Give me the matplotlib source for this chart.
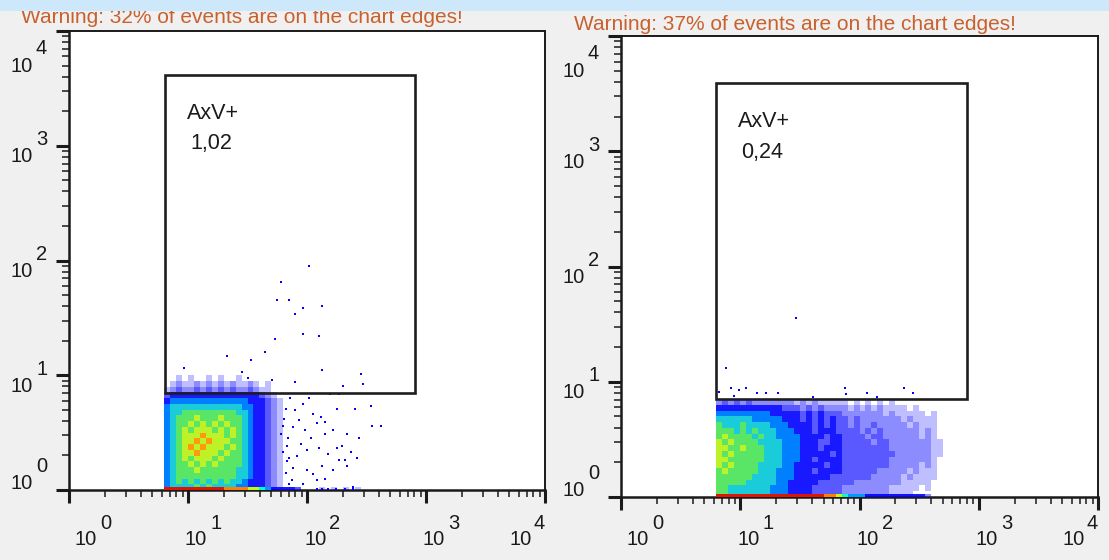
import numpy as np
import matplotlib
matplotlib.use("Agg")
import matplotlib.pyplot as plt
from matplotlib.colors import ListedColormap, BoundaryNorm
from matplotlib.patches import Rectangle
from matplotlib.ticker import LogLocator, NullFormatter

# --- values (all positions in log10 decades) ---
decades = [0, 1, 2, 3, 4]
warnings = ["Warning: 32% of events are on the chart edges!",
            "Warning: 37% of events are on the chart edges!"]
gate_names = ["AxV+", "AxV+"]
gate_values = ["1,02", "0,24"]
# gate: x_lo, x_hi, y_lo, y_hi
gate_left = (0.81, 2.91, 0.845, 3.62)
gate_right = (0.80, 2.905, 0.85, 3.59)

# event density, levels 0 (none) .. 9 (hottest); top row first,
# one column per 0.05 decade starting at 0.80, one row per 0.05 decade from 0
grid_x0 = 0.80
grid_step = 0.05
density_left = [
    "00101001010010000000",
    "01211212121211210100",
    "12322323232322321100",
    "34444444444444443210",
    "45555555555555444321",
    "56666666666665544321",
    "56677777777766544321",
    "56777877787776544321",
    "56778787878776544321",
    "56787888787876544321",
    "56788898887876544321",
    "56788989888776544321",
    "56789898887876544321",
    "56788988878776544321",
    "56787888787776544321",
    "56778787877776544321",
    "56777877777766544321",
    "56777777777766544321",
    "56767676767665444321",
    "56666767666655444321",
]
density_right = [
    "2323232222222" "12121111" "1010101010" "0000000",
    "4444444444433" "32323222" "2121212111" "1010000",
    "5555555554444" "43434333" "2222222121" "1111010",
    "6666665555544" "43434343" "3232222222" "1211110",
    "7666766665554" "44434343" "3232232222" "2121110",
    "7776767666555" "44434443" "3332323222" "2221210",
    "7877776766555" "54444344" "3333233222" "2221210",
    "8787777666655" "54443344" "3333323322" "2222211",
    "8877877766655" "54443444" "3333333322" "2222211",
    "8787777766655" "54444434" "3333333332" "2222211",
    "8877777766655" "54434444" "3333333322" "2222210",
    "8787777666655" "44444344" "3333333322" "2221210",
    "7877777666555" "44434444" "3333332222" "2121110",
    "7777776666555" "44444433" "3333322222" "1211110",
    "7777766666554" "44443333" "3322222222" "1111100",
    "7766666665554" "44433333" "2222222211" "1110100",
    "7766666665554" "44433333" "2222222211" "1100000",
]
# events piled on the bottom edge (y minimum), same columns
edge_left = "99999999998888776544443000101010100"
edge_right = "99999999999999999988765554444444444200"

# single outlying events
left_pts_x = [2.02, 1.78, 1.75, 1.85, 1.97, 2.13, 1.90, 1.97, 2.10, 1.73, 1.65, 1.33,
              1.53, 0.97, 1.45, 2.13, 2.45, 2.30, 2.47, 1.90, 1.71, 1.50, 2.19, 2.27,
              2.54, 2.55, 2.62, 2.40, 2.25, 2.05, 2.12, 2.15, 2.22, 2.34, 2.44, 2.29,
              2.37, 2.42, 2.27, 2.34, 2.22, 2.15, 2.05, 2.00, 2.08, 2.39, 1.98, 2.03,
              1.95, 2.00, 1.92, 2.08, 2.15, 2.10, 1.93, 1.90, 1.97, 2.02, 2.25, 2.32,
              2.18, 2.13, 1.88, 1.87, 1.97, 1.83, 1.85, 1.80, 1.82, 1.78, 1.82, 1.84,
              1.81, 1.86, 1.83, 1.88, 1.80, 1.85, 2.08, 2.13, 2.18, 2.24, 2.32, 2.39]
left_pts_y = [1.95, 1.81, 1.66, 1.66, 1.59, 1.60, 1.53, 1.36, 1.34, 1.32, 1.20, 1.17,
              1.13, 1.06, 1.03, 1.05, 1.01, 0.91, 0.92, 0.94, 0.96, 0.98, 0.84, 0.84,
              0.73, 0.56, 0.56, 0.71, 0.71, 0.66, 0.64, 0.59, 0.52, 0.49, 0.45, 0.38,
              0.33, 0.28, 0.26, 0.21, 0.17, 0.10, 0.14, 0.17, 0.09, 0.03, 0.52, 0.45,
              0.40, 0.35, 0.30, 0.58, 0.49, 0.37, 0.61, 0.70, 0.75, 0.80, 0.37, 0.26,
              0.31, 0.21, 0.19, 0.09, 0.05, 0.38, 0.28, 0.56, 0.71, 0.49, 0.15, 0.45,
              0.62, 0.80, 0.25, 0.55, 0.33, 0.05, 0.01, 0.01, 0.01, 0.01, 0.01, 0.01]
right_pts_x = [1.47, 0.88, 0.92, 0.99, 1.05, 1.14, 1.22, 1.32, 1.88, 1.89, 2.06, 2.37,
               2.45, 0.82, 1.61, 2.15, 0.95]
right_pts_y = [1.55, 1.12, 0.95, 0.93, 0.95, 0.90, 0.90, 0.90, 0.95, 0.89, 0.90, 0.95,
               0.90, 0.91, 0.87, 0.87, 0.88]

# --- figure ---
W, H = 1109, 560
fig = plt.figure(figsize=(W / 100, H / 100), dpi=100)
fig.patch.set_facecolor("#f0f0f0")

# sparse levels are blue dots on white, so they get a lower alpha
level_colors = [(1, 1, 1, 0), (0, 0, 1, 0.25), (0, 0, 1, 0.45), (0, 0, 1, 0.65),
                (0, 0, 1, 0.9), (0.0, 0.5, 1, 1), (0.1, 0.8, 0.85, 1),
                (0.35, 0.9, 0.4, 1), (0.75, 0.95, 0.15, 1), (1, 0.6, 0.05, 1)]
edge_colors = level_colors[:5] + [(0, 0.6, 1, 1), (0, 1, 0.8, 1), (0.75, 1, 0, 1),
                                  (1, 0.5, 0, 1), (0.88, 0.08, 0, 1)]
norm = BoundaryNorm(np.arange(-0.5, 10.5, 1), 10)
ink = "#1a1a1a"


def px_axes(x0, x1, ytop, ybot):
    return fig.add_axes([x0 / W, 1 - ybot / H, (x1 - x0) / W, (ybot - ytop) / H])


def levels(rows, n):
    return np.array([[int(c) for c in r.ljust(n, "0")[:n]] for r in rows])


def draw_panel(ax, rows, edge, px, py, gate, name, value):
    ax.set_xscale("log")
    ax.set_yscale("log")
    ncol = max(len(r) for r in rows)
    z = levels(rows[::-1], ncol)
    xe = 10 ** (grid_x0 + grid_step * np.arange(ncol + 1))
    ye = 10 ** (grid_step * np.arange(len(rows) + 1))
    ax.pcolormesh(xe, ye, z, cmap=ListedColormap(level_colors), norm=norm,
                  shading="flat", antialiased=False, zorder=2)
    ze = levels([edge], len(edge))
    xe2 = 10 ** (grid_x0 + grid_step * np.arange(len(edge) + 1))
    ax.pcolormesh(xe2, [1, 10 ** 0.03], ze, cmap=ListedColormap(edge_colors),
                  norm=norm, shading="flat", antialiased=False, zorder=3)
    ax.scatter(10 ** np.array(px), 10 ** np.array(py), s=3.5, marker="s",
               c="#0000ff", linewidths=0, zorder=3)
    x0, x1, y0, y1 = gate
    ax.add_patch(Rectangle((10 ** x0, 10 ** y0), 10 ** x1 - 10 ** x0, 10 ** y1 - 10 ** y0,
                           fill=False, lw=1.9, ec="#1e1e1e", zorder=5))
    ax.text(10 ** (x0 + 0.18), 10 ** (y1 - 0.335), name, fontsize=15.5,
            family="Liberation Sans", color=ink, va="center", ha="left")
    ax.text(10 ** (x0 + 0.21), 10 ** (y1 - 0.6), value, fontsize=15.5,
            family="Liberation Sans", color=ink, va="center", ha="left")

    ax.set_xlim(1, 1e4)
    ax.set_ylim(1, 1e4)
    for axis in (ax.xaxis, ax.yaxis):
        axis.set_major_locator(LogLocator(base=10, numticks=10))
        axis.set_minor_locator(LogLocator(base=10, subs=np.arange(2, 10), numticks=10))
        axis.set_major_formatter(NullFormatter())
        axis.set_minor_formatter(NullFormatter())
    ax.tick_params(which="major", direction="out", length=9.5, width=2.2, color=ink)
    ax.tick_params(which="minor", direction="out", length=5, width=1.1, color=ink)
    ax.tick_params(which="both", top=False, right=False)
    for s in ax.spines.values():
        s.set_color(ink)
        s.set_linewidth(1.4)
    ax.spines["left"].set_linewidth(1.8)
    ax.spines["bottom"].set_linewidth(1.8)


ax1 = px_axes(69, 545, 31, 490)
ax2 = px_axes(621, 1098, 36, 497)
draw_panel(ax1, density_left, edge_left, left_pts_x, left_pts_y, gate_left,
           gate_names[0], gate_values[0])
draw_panel(ax2, density_right, edge_right, right_pts_x, right_pts_y, gate_right,
           gate_names[1], gate_values[1])

# decade labels: "10" and the exponent at full size, as the cytometer software draws them
tick_size = 14.5
half_cap = tick_size * 100 / 72 * 0.716 / 2


def put(x, y, s, ha):
    fig.text(x / W, 1 - (y + half_cap) / H, s, ha=ha, va="baseline",
             family="Liberation Sans", fontsize=tick_size, color=ink)


for ax in (ax1, ax2):
    left_px = ax.bbox.x0
    for k in decades:
        tx = ax.transData.transform((10.0 ** k, 1))[0]
        ty = H - ax.transData.transform((1, 10.0 ** k))[1]
        # x axis
        if k == 4:
            put(tx, 522, str(k), "right")
            put(tx - 13, 538, "10", "right")
        else:
            x10 = tx + 6 if k == 0 else tx - 3
            put(x10, 538, "10", "left")
            put(x10 + 25, 522, str(k), "left")
        # y axis
        if k == 0:
            c10, cexp = ty - 8, ty - 25
        elif k == 4:
            c10, cexp = ty + 33.5, ty + 15.5
        else:
            c10, cexp = ty + 9.5, ty - 7.5
        put(left_px - 36, c10, "10", "right")
        put(left_px - 33, cexp, str(k), "left")

warn_color = "#c8612e"
fig.text(21 / W, 1 - 23 / H, warnings[0], fontsize=15, family="Liberation Sans",
         color=warn_color, ha="left", va="baseline")
fig.text(574 / W, 1 - 30 / H, warnings[1], fontsize=15, family="Liberation Sans",
         color=warn_color, ha="left", va="baseline")
fig.add_artist(Rectangle((0, 1 - 11 / H), 1, 11 / H, transform=fig.transFigure,
                         facecolor="#cde8fb", edgecolor="none", zorder=10))

fig.savefig("out.png", dpi=100, facecolor=fig.get_facecolor())
